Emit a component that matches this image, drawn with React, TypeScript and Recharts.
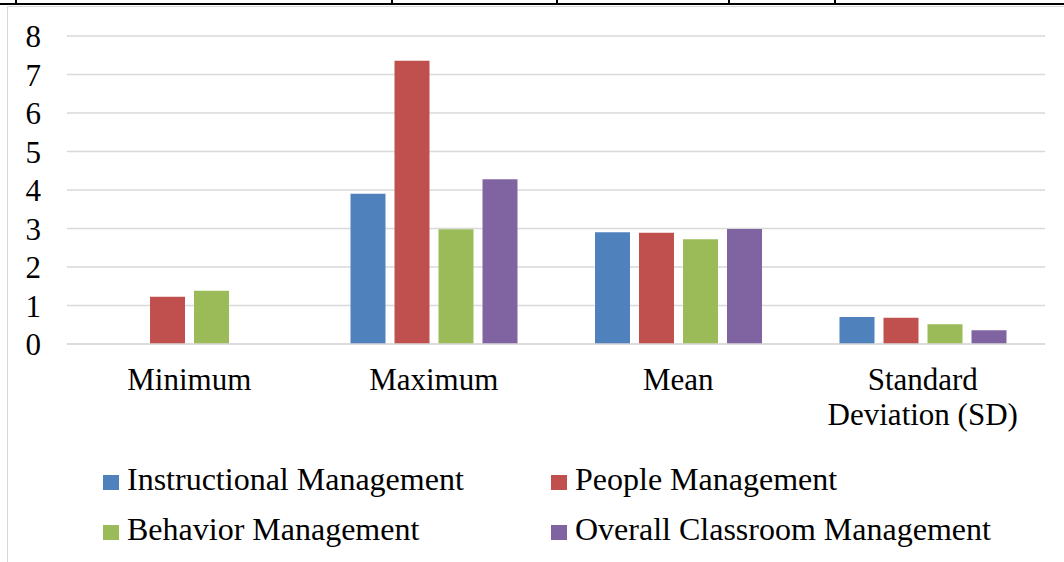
import React from "react";
import { Bar, BarChart, CartesianGrid, Legend, XAxis, YAxis } from "recharts";

const categories = ["Minimum", "Maximum", "Mean", "Standard Deviation (SD)"];
const instructional = [0, 3.9, 2.9, 0.7];
const people = [1.23, 7.36, 2.89, 0.68];
const behavior = [1.38, 2.98, 2.72, 0.51];
const overall = [0, 4.28, 2.99, 0.36];
const yTicks = [0, 1, 2, 3, 4, 5, 6, 7, 8];

const seriesNames = [
  "Instructional Management",
  "People Management",
  "Behavior Management",
  "Overall Classroom Management",
];

const FONT = '"Liberation Serif", "Times New Roman", serif';

const data = categories.map((name, i) => ({
  name,
  instructional: instructional[i],
  people: people[i],
  behavior: behavior[i],
  overall: overall[i],
}));

const CategoryTick = (props: any) => {
  const { x, y, payload } = props;
  const label: string = payload.value;
  let lines = [label];
  if (label.length > 12) {
    const i = label.indexOf(" ");
    lines = [label.slice(0, i), label.slice(i + 1)];
  }
  return (
    <text x={x} y={y} textAnchor="middle" fill="#000" fontSize={31} fontFamily={FONT}>
      {lines.map((l, i) => (
        <tspan key={i} x={x} dy={i === 0 ? "0.71em" : 35}>
          {l}
        </tspan>
      ))}
    </text>
  );
};

const LegendBox = (props: any) => {
  // keep the series order instead of the sorted payload
  const items = [...(props.payload || [])].sort(
    (a: any, b: any) => seriesNames.indexOf(a.value) - seriesNames.indexOf(b.value)
  );
  return (
    <div
      style={{
        display: "grid",
        gridTemplateColumns: "448px auto",
        fontFamily: FONT,
        fontSize: 32,
        lineHeight: "50px",
        color: "#000",
        whiteSpace: "nowrap",
      }}
    >
      {items.map((p: any) => (
        <div key={p.value} style={{ display: "flex", alignItems: "baseline" }}>
          <span
            style={{
              display: "inline-block",
              width: 16,
              height: 15,
              background: p.color,
              marginRight: 8,
            }}
          />
          <span>{p.value}</span>
        </div>
      ))}
    </div>
  );
};

export default function App() {
  return (
    <div style={{ position: "absolute", left: 0, top: 0, width: 1064, height: 562, background: "#fff" }}>
      {/* table edge above the chart */}
      <div style={{ position: "absolute", left: 0, top: 3, width: 1064, height: 2, background: "#000" }} />
      {[15, 391, 556, 728, 834].map((x) => (
        <div key={x} style={{ position: "absolute", left: x, top: 0, width: 2, height: 4, background: "#000" }} />
      ))}
      {/* chart frame */}
      <div style={{ position: "absolute", left: 7, top: 6, width: 1057, height: 556, borderLeft: "1px solid #d9d9d9", borderTop: "1px solid #d9d9d9" }} />
      <div style={{ position: "absolute", left: 0, top: 0 }}>
        <BarChart
          width={1064}
          height={562}
          data={data}
          margin={{ top: 36, right: 19, bottom: 158, left: 0 }}
          barSize={35}
          barGap={9}
        >
          <CartesianGrid vertical={false} stroke="#d9d9d9" strokeWidth={1.5} />
          <XAxis
            dataKey="name"
            height={60}
            tickSize={0}
            tickMargin={24}
            axisLine={{ stroke: "#d9d9d9", strokeWidth: 1.5 }}
            tickLine={false}
            tick={<CategoryTick />}
            interval={0}
          />
          <YAxis
            width={67}
            domain={[0, 8]}
            ticks={yTicks}
            interval={0}
            tickSize={0}
            tickMargin={26}
            axisLine={false}
            tickLine={false}
            tick={{ fill: "#000", fontSize: 31, fontFamily: FONT }}
          />
          <Legend
            layout="horizontal"
            verticalAlign="middle"
            align="center"
            wrapperStyle={{ top: 454, left: 103, width: 940 }}
            content={<LegendBox />}
          />
          <Bar dataKey="instructional" name={seriesNames[0]} fill="#4F81BD" isAnimationActive={false} />
          <Bar dataKey="people" name={seriesNames[1]} fill="#C0504D" isAnimationActive={false} />
          <Bar dataKey="behavior" name={seriesNames[2]} fill="#9BBB59" isAnimationActive={false} />
          <Bar dataKey="overall" name={seriesNames[3]} fill="#8064A2" isAnimationActive={false} />
        </BarChart>
      </div>
    </div>
  );
}
